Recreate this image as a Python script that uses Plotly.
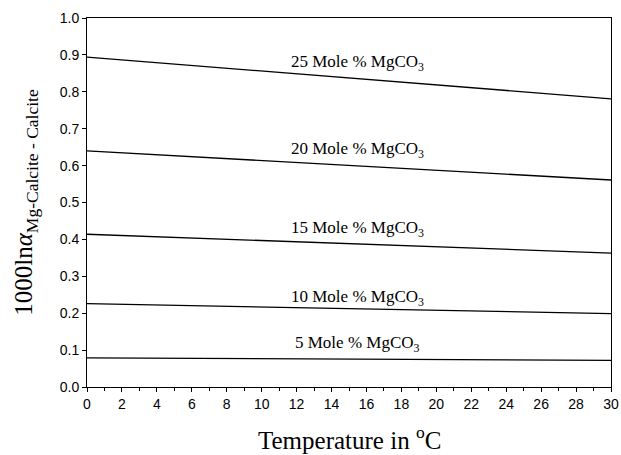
import plotly.graph_objects as go

# Temperature (°C) and 1000 ln(alpha) for Mg-calcite relative to calcite
temperature = [0, 15, 30]
mole_pct = [25, 20, 15, 10, 5]
alpha_25 = [0.894, 0.838, 0.781]
alpha_20 = [0.640, 0.600, 0.561]
alpha_15 = [0.414, 0.389, 0.363]
alpha_10 = [0.226, 0.212, 0.199]
alpha_5 = [0.079, 0.076, 0.072]
series = [alpha_25, alpha_20, alpha_15, alpha_10, alpha_5]

# label anchors (data coordinates)
label_x = 15.5
label_y = [0.877, 0.642, 0.428, 0.241, 0.116]

SERIF = "Liberation Serif, Times New Roman, serif"
SANS = "Liberation Sans, Arial, sans-serif"

fig = go.Figure()
for pct, vals in zip(mole_pct, series):
    fig.add_trace(go.Scatter(
        x=temperature, y=vals, mode="lines",
        line=dict(color="black", width=1.3),
        name=f"{pct} Mole % MgCO3", showlegend=False,
        hoverinfo="skip",
    ))

for pct, ly in zip(mole_pct, label_y):
    fig.add_annotation(
        x=label_x, y=ly, xref="x", yref="y",
        text=f"{pct} Mole % MgCO<sub>3</sub>",
        showarrow=False,
        font=dict(family=SERIF, size=17, color="black"),
    )

# x-axis title below the tick labels
fig.add_annotation(
    x=0.5, y=-0.138, xref="paper", yref="paper",
    text="Temperature in <sup>o</sup>C", showarrow=False,
    xanchor="center", yanchor="middle",
    font=dict(family=SERIF, size=25, color="black"),
)

axis_common = dict(
    showgrid=False, zeroline=False, automargin=False,
    showline=True, linecolor="black", linewidth=1, mirror=True,
    ticks="outside", ticklen=4, tickcolor="black", tickwidth=1,
    tickfont=dict(family=SANS, size=14, color="black"),
)

fig.update_xaxes(
    range=[0, 30], tick0=0, dtick=2,
    minor=dict(dtick=1, ticks="outside", ticklen=3, tickcolor="black"),
    **axis_common,
)
fig.update_yaxes(
    range=[0, 1.0], tick0=0, dtick=0.1, tickformat=".1f",
    title=dict(text="1000ln<i>α</i><sub>Mg-Calcite - Calcite</sub>",
               standoff=19,
               font=dict(family=SERIF, size=25, color="black")),
    **axis_common,
)

fig.update_layout(
    width=621, height=455,
    margin=dict(l=87, r=10, t=18, b=68),
    plot_bgcolor="white", paper_bgcolor="white",
)

fig.write_html("out.html")
